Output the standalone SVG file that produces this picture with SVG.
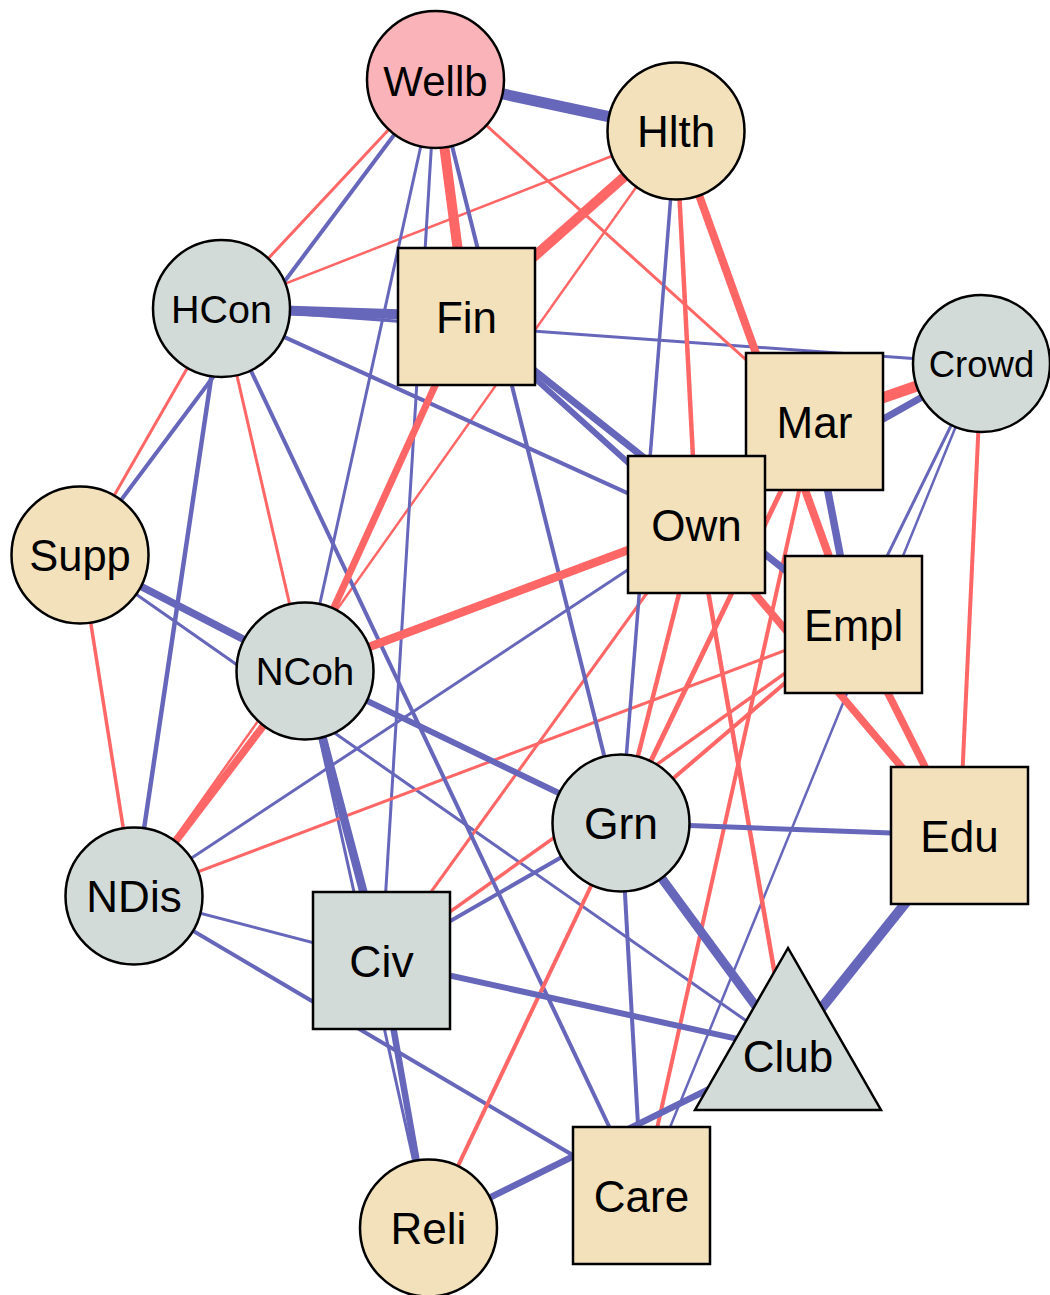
<svg xmlns="http://www.w3.org/2000/svg" width="1050" height="1295" viewBox="0 0 1050 1295">
<style>
.b{stroke:#6666BB;fill:none}
.r{stroke:#FF6666;fill:none}
.n{stroke:#000;stroke-width:2.5}
.pk{fill:#FAB4B9}
.wh{fill:#F2E1BB}
.gy{fill:#D3DBD8}
text{font-family:"Liberation Sans",Arial,sans-serif;fill:#000;text-anchor:middle}
</style>
<rect width="1050" height="1295" fill="#fff"/>
<g id="edges">
<line class="b" x1="981.5" y1="363.5" x2="642" y2="1196" stroke-width="2.5"/>
<line class="r" x1="676" y1="131" x2="221.5" y2="308.5" stroke-width="2.5"/>
<line class="r" x1="676" y1="131" x2="134" y2="896" stroke-width="2.5"/>
<line class="b" x1="435.5" y1="79.5" x2="305" y2="671" stroke-width="3"/>
<line class="b" x1="435.5" y1="79.5" x2="381.5" y2="960.5" stroke-width="3"/>
<line class="b" x1="221.5" y1="308.5" x2="981.5" y2="363.5" stroke-width="3"/>
<line class="b" x1="981.5" y1="363.5" x2="853.5" y2="624.5" stroke-width="3"/>
<line class="b" x1="696.5" y1="524.5" x2="134" y2="896" stroke-width="3"/>
<line class="b" x1="134" y1="896" x2="381.5" y2="960.5" stroke-width="3"/>
<line class="b" x1="305" y1="671" x2="428.5" y2="1228" stroke-width="3"/>
<line class="b" x1="80" y1="555" x2="788" y2="1050" stroke-width="3"/>
<line class="r" x1="435.5" y1="79.5" x2="221.5" y2="308.5" stroke-width="3"/>
<line class="r" x1="435.5" y1="79.5" x2="814.5" y2="421.5" stroke-width="3"/>
<line class="r" x1="221.5" y1="308.5" x2="80" y2="555" stroke-width="3"/>
<line class="r" x1="221.5" y1="308.5" x2="305" y2="671" stroke-width="3"/>
<line class="r" x1="696.5" y1="524.5" x2="381.5" y2="960.5" stroke-width="3"/>
<line class="r" x1="853.5" y1="624.5" x2="134" y2="896" stroke-width="3"/>
<line class="b" x1="676" y1="131" x2="621" y2="823" stroke-width="3.5"/>
<line class="r" x1="853.5" y1="624.5" x2="381.5" y2="960.5" stroke-width="3.5"/>
<line class="r" x1="80" y1="555" x2="134" y2="896" stroke-width="3.5"/>
<line class="b" x1="435.5" y1="79.5" x2="80" y2="555" stroke-width="4"/>
<line class="b" x1="435.5" y1="79.5" x2="621" y2="823" stroke-width="4"/>
<line class="b" x1="221.5" y1="308.5" x2="696.5" y2="524.5" stroke-width="4"/>
<line class="b" x1="221.5" y1="308.5" x2="642" y2="1196" stroke-width="4"/>
<line class="b" x1="621" y1="823" x2="642" y2="1196" stroke-width="4"/>
<line class="b" x1="381.5" y1="960.5" x2="621" y2="823" stroke-width="4"/>
<line class="b" x1="134" y1="896" x2="642" y2="1196" stroke-width="4"/>
<line class="r" x1="981.5" y1="363.5" x2="959.5" y2="835.5" stroke-width="4"/>
<line class="r" x1="814.5" y1="421.5" x2="642" y2="1196" stroke-width="4"/>
<line class="r" x1="853.5" y1="624.5" x2="621" y2="823" stroke-width="4"/>
<line class="r" x1="621" y1="823" x2="428.5" y2="1228" stroke-width="4"/>
<line class="b" x1="221.5" y1="308.5" x2="134" y2="896" stroke-width="4.5"/>
<line class="r" x1="676" y1="131" x2="696.5" y2="524.5" stroke-width="4.5"/>
<line class="r" x1="696.5" y1="524.5" x2="621" y2="823" stroke-width="4.5"/>
<line class="r" x1="696.5" y1="524.5" x2="788" y2="1050" stroke-width="4.5"/>
<line class="b" x1="621" y1="823" x2="959.5" y2="835.5" stroke-width="5"/>
<line class="r" x1="814.5" y1="421.5" x2="621" y2="823" stroke-width="5"/>
<line class="b" x1="466.5" y1="316.5" x2="696.5" y2="524.5" stroke-width="6"/>
<line class="b" x1="305" y1="671" x2="621" y2="823" stroke-width="6"/>
<line class="b" x1="381.5" y1="960.5" x2="788" y2="1050" stroke-width="6"/>
<line class="b" x1="381.5" y1="960.5" x2="428.5" y2="1228" stroke-width="6.5"/>
<line class="b" x1="428.5" y1="1228" x2="788" y2="1050" stroke-width="6.5"/>
<line class="b" x1="466.5" y1="316.5" x2="853.5" y2="624.5" stroke-width="7"/>
<line class="b" x1="981.5" y1="363.5" x2="696.5" y2="524.5" stroke-width="7"/>
<line class="b" x1="814.5" y1="421.5" x2="853.5" y2="624.5" stroke-width="7.5"/>
<line class="b" x1="80" y1="555" x2="305" y2="671" stroke-width="7.5"/>
<line class="r" x1="676" y1="131" x2="853.5" y2="624.5" stroke-width="8"/>
<line class="r" x1="466.5" y1="316.5" x2="305" y2="671" stroke-width="7"/>
<line class="r" x1="696.5" y1="524.5" x2="959.5" y2="835.5" stroke-width="7.5"/>
<line class="r" x1="853.5" y1="624.5" x2="959.5" y2="835.5" stroke-width="7.5"/>
<line class="r" x1="305" y1="671" x2="134" y2="896" stroke-width="7.5"/>
<line class="b" x1="621" y1="823" x2="788" y2="1050" stroke-width="9"/>
<line class="b" x1="305" y1="671" x2="381.5" y2="960.5" stroke-width="8.5"/>
<line class="r" x1="305" y1="671" x2="696.5" y2="524.5" stroke-width="8.5"/>
<line class="b" x1="221.5" y1="308.5" x2="466.5" y2="316.5" stroke-width="10"/>
<line class="b" x1="959.5" y1="835.5" x2="788" y2="1050" stroke-width="10"/>
<line class="r" x1="676" y1="131" x2="466.5" y2="316.5" stroke-width="10"/>
<line class="b" x1="435.5" y1="79.5" x2="676" y2="131" stroke-width="11"/>
<line class="r" x1="435.5" y1="79.5" x2="466.5" y2="316.5" stroke-width="10"/>
<line class="r" x1="981.5" y1="363.5" x2="814.5" y2="421.5" stroke-width="11"/>
</g>
<g id="node-Wellb"><circle class="n pk" cx="435.5" cy="79.5" r="68.5"/><text x="435.5" y="96" font-size="42">Wellb</text></g>
<g id="node-Hlth"><circle class="n wh" cx="676" cy="131" r="68.5"/><text x="676" y="147" font-size="44">Hlth</text></g>
<g id="node-HCon"><circle class="n gy" cx="221.5" cy="308.5" r="68.5"/><text x="221.5" y="323" font-size="39.5">HCon</text></g>
<g id="node-Fin"><rect class="n wh" x="398" y="248" width="137" height="137"/><text x="466.5" y="332.5" font-size="44">Fin</text></g>
<g id="node-Crowd"><circle class="n gy" cx="981.5" cy="363.5" r="68.5"/><text x="981.5" y="376.5" font-size="36.5">Crowd</text></g>
<g id="node-Mar"><rect class="n wh" x="746" y="353" width="137" height="137"/><text x="814.5" y="437.5" font-size="44">Mar</text></g>
<g id="node-Own"><rect class="n wh" x="628" y="456" width="137" height="137"/><text x="696.5" y="540.5" font-size="44">Own</text></g>
<g id="node-Supp"><circle class="n wh" cx="80" cy="555" r="68.5"/><text x="80" y="571" font-size="43.5">Supp</text></g>
<g id="node-NCoh"><circle class="n gy" cx="305" cy="671" r="68.5"/><text x="305" y="685" font-size="38.5">NCoh</text></g>
<g id="node-Empl"><rect class="n wh" x="785" y="556" width="137" height="137"/><text x="853.5" y="640.5" font-size="43.5">Empl</text></g>
<g id="node-Grn"><circle class="n gy" cx="621" cy="823" r="68.5"/><text x="621" y="839" font-size="44.5">Grn</text></g>
<g id="node-Edu"><rect class="n wh" x="891" y="767" width="137" height="137"/><text x="959.5" y="851.5" font-size="44">Edu</text></g>
<g id="node-NDis"><circle class="n gy" cx="134" cy="896" r="68.5"/><text x="134" y="912" font-size="44">NDis</text></g>
<g id="node-Civ"><rect class="n gy" x="313" y="892" width="137" height="137"/><text x="381.5" y="976.5" font-size="44.5">Civ</text></g>
<g id="node-Club"><polygon class="n gy" points="788,948 695,1110 881,1110"/><text x="788" y="1072" font-size="44">Club</text></g>
<g id="node-Care"><rect class="n wh" x="573" y="1127" width="137" height="137"/><text x="641.5" y="1211.5" font-size="44">Care</text></g>
<g id="node-Reli"><circle class="n wh" cx="428.5" cy="1228" r="68.5"/><text x="428.5" y="1244" font-size="44">Reli</text></g>
</svg>
